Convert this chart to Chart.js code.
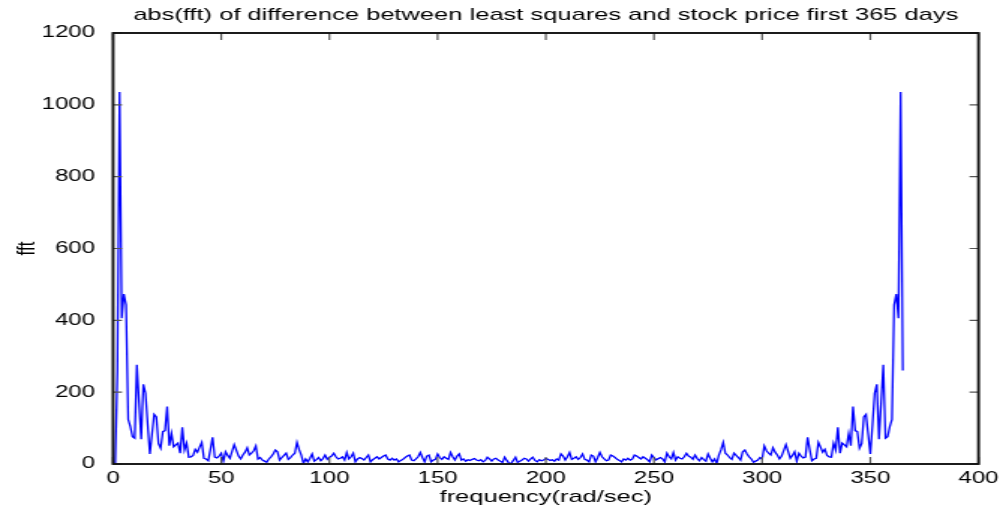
<!DOCTYPE html>
<html><head><meta charset="utf-8">
<script src="https://cdn.jsdelivr.net/npm/chart.js@4.4.1/dist/chart.umd.min.js"></script>
<style>
html,body{margin:0;padding:0;background:#fff;overflow:hidden;}
#wrap{width:671px;height:512px;transform:scaleX(1.49925);transform-origin:0 0;}
canvas{display:block;}
</style></head><body>
<div id="wrap"><canvas id="c" width="671" height="512"></canvas></div>
<script>
const titleText = 'abs(fft) of difference between least squares and stock price first 365 days';
const xLabel = 'frequency(rad/sec)';
const yLabel = 'fft';
const xTicks = [0, 50, 100, 150, 200, 250, 300, 350, 400];
const yTicks = [0, 200, 400, 600, 800, 1000, 1200];

// |fft| values, samples 1..183
const fftLeft = [0,260,1036,406,473,443,124,104,76,72,
 276,172,69,222,197,110,28,83,138,131,
 57,44,90,93,160,51,85,48,53,58,
 30,102,39,58,19,20,24,41,33,47,
 60,16,14,9,40,74,19,17,22,30,
 8,34,24,16,35,54,38,22,14,25,
 33,45,25,30,37,50,14,18,11,8,
 5,14,20,28,39,34,11,18,24,30,
 13,18,25,30,60,40,25,2,14,6,
 16,28,8,12,18,9,15,25,13,19,
 22,30,20,14,16,20,11,32,14,20,
 30,6,14,18,15,11,18,25,6,12,
 16,20,14,18,22,25,14,11,16,11,
 14,6,10,13,18,22,25,11,9,14,
 20,32,18,6,22,25,6,11,13,28,
 18,13,20,16,13,32,20,11,22,28,
 11,14,8,12,10,13,15,11,9,12,
 6,10,19,14,8,14,16,11,8,4,
 19,10,2];
// |fft| values, samples 184..365
const fftRight = [2,10,19,
 4,8,11,16,14,8,14,19,10,6,
 12,9,11,15,13,10,12,8,14,11,
 28,22,11,20,32,13,16,20,13,18,
 28,13,11,6,25,22,6,18,32,20,
 14,9,11,25,22,18,13,10,6,14,
 11,16,11,14,25,22,18,14,20,16,
 12,6,25,18,11,15,18,14,6,30,
 20,14,32,11,20,16,14,20,30,22,
 19,13,25,15,9,18,12,8,28,16,
 6,14,2,25,40,60,30,25,18,13,
 30,24,18,11,34,39,28,20,14,5,
 8,11,18,14,50,37,30,25,45,33,
 25,14,22,38,54,35,16,24,34,8,
 30,22,17,19,74,40,9,14,16,60,
 47,33,41,24,20,19,58,39,102,30,
 58,53,48,85,51,160,93,90,44,57,
 131,138,83,28,110,197,222,69,172,276,
 72,76,104,124,443,473,406,1036,260];

const fftValues = fftLeft.concat(fftRight);
const points = fftValues.map((v, i) => ({x: i + 1, y: v}));

const FONT = "'Liberation Sans', Arial, Helvetica, sans-serif";
Chart.defaults.font.family = FONT;
Chart.defaults.color = '#000';

const boxPlugin = {
  id: 'matlabBox',
  afterDatasetsDraw(chart) {
    const {ctx, chartArea: a, scales: {x, y}} = chart;
    ctx.save();
    ctx.strokeStyle = '#555';
    ctx.lineWidth = 1.2;
    xTicks.forEach(v => {
      const px = x.getPixelForValue(v);
      ctx.beginPath();
      ctx.moveTo(px, a.bottom); ctx.lineTo(px, a.bottom - 7);
      ctx.moveTo(px, a.top); ctx.lineTo(px, a.top + 7);
      ctx.stroke();
    });
    yTicks.forEach(v => {
      const py = y.getPixelForValue(v);
      ctx.beginPath();
      ctx.moveTo(a.left, py); ctx.lineTo(a.left + 6, py);
      ctx.moveTo(a.right, py); ctx.lineTo(a.right - 6, py);
      ctx.stroke();
    });
    ctx.strokeStyle = '#111';
    ctx.lineWidth = 1.9;
    ctx.strokeRect(a.left, a.top, a.width, a.height);
    ctx.restore();
  }
};

new Chart(document.getElementById('c'), {
  type: 'line',
  data: {
    datasets: [{
      data: points,
      borderColor: '#0000ff',
      borderWidth: 1.3,
      pointRadius: 0,
      tension: 0,
      fill: false
    }]
  },
  options: {
    responsive: false,
    animation: false,
    devicePixelRatio: 1,
    layout: {padding: {top: 0, right: 17.3, left: 0, bottom: 0}},
    plugins: {
      legend: {display: false},
      tooltip: {enabled: false},
      title: {
        display: true,
        text: titleText,
        fullSize: false,
        font: {size: 17, weight: 'normal'},
        color: '#000',
        padding: {top: 5, bottom: 7.6}
      }
    },
    scales: {
      x: {
        type: 'linear',
        min: 0, max: 400,
        afterBuildTicks: s => { s.ticks = xTicks.map(v => ({value: v})); },
        afterFit: s => { s.height = 48; },
        grid: {display: false, drawTicks: false},
        border: {display: false},
        ticks: {padding: 5, font: {size: 16}, color: '#000', maxRotation: 0, autoSkip: false,
                callback: v => String(v)},
        title: {display: true, text: xLabel, font: {size: 17}, color: '#000', padding: {top: 0, bottom: 4}}
      },
      y: {
        type: 'linear',
        min: 0, max: 1200,
        afterBuildTicks: s => { s.ticks = yTicks.map(v => ({value: v})); },
        afterFit: s => { s.width = 75.4; },
        grid: {display: false, drawTicks: false},
        border: {display: false},
        ticks: {padding: 12, font: {size: 16}, color: '#000', autoSkip: false,
                callback: v => String(v)},
        title: {display: true, text: yLabel, font: {size: 17}, color: '#000', padding: {top: 8.5, bottom: 0}}
      }
    }
  },
  plugins: [boxPlugin]
});
</script>
</body></html>
